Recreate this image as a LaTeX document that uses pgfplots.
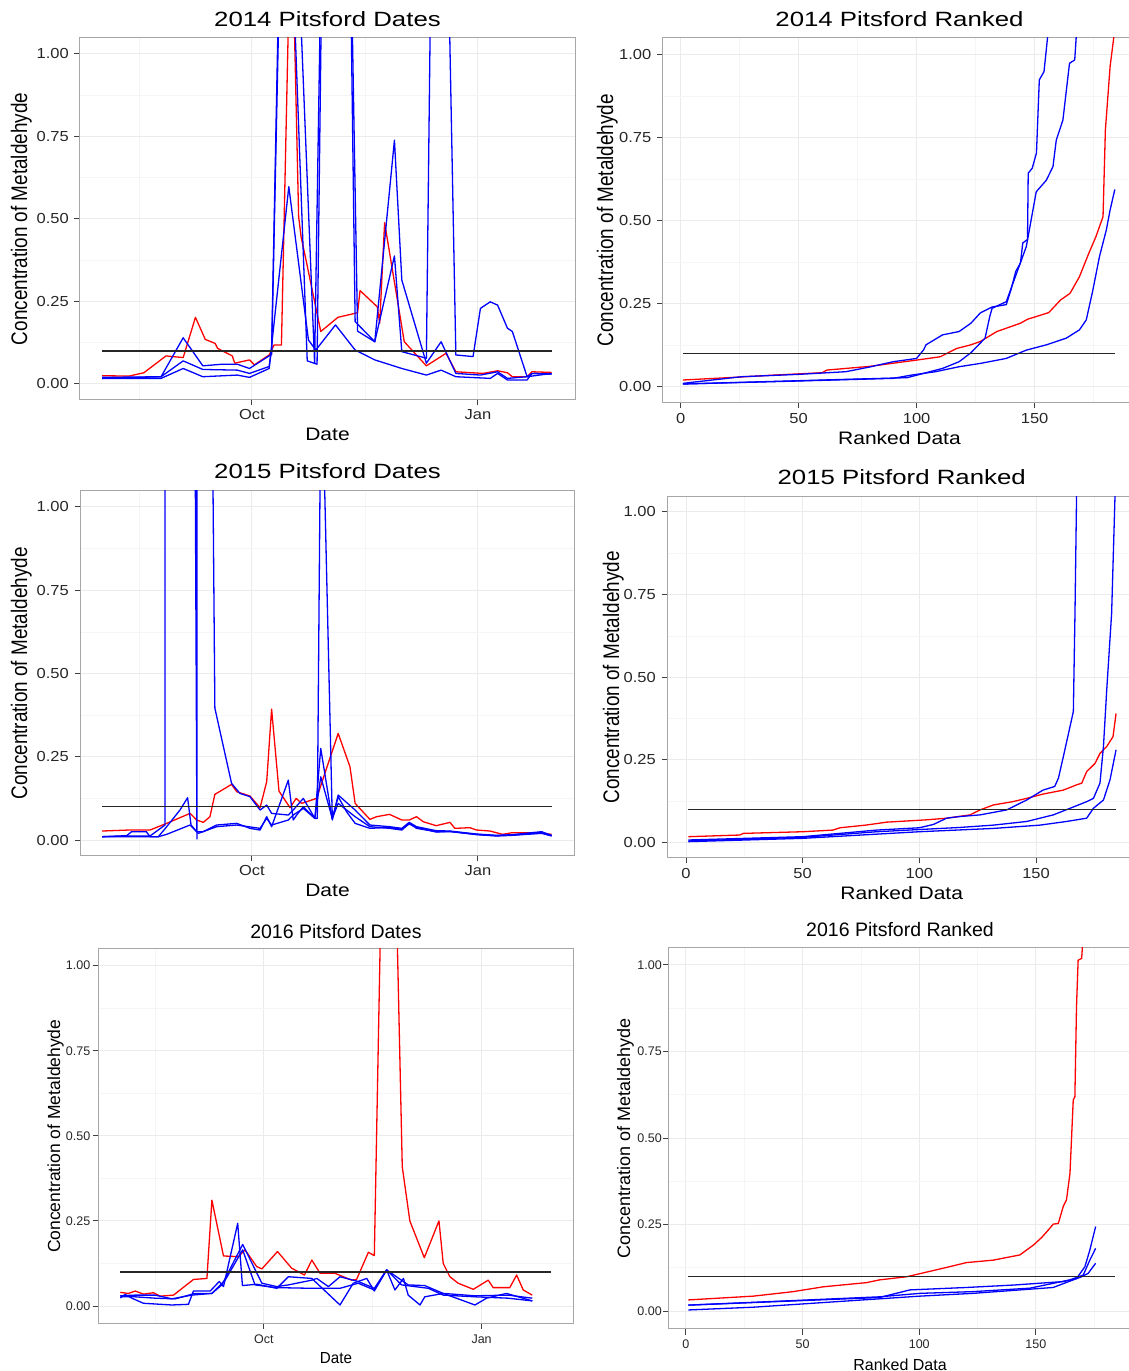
\documentclass[border=0pt]{standalone}
\usepackage{pgfplots}
\pgfplotsset{compat=1.18}
\usepackage{fontspec}
\setmainfont{Liberation Sans}
\usepackage{graphicx}
\newcommand\fs[1]{\fontsize{#1}{#1}\selectfont}
\newcommand\TV[1]{\scalebox{1}[0.88]{#1}}
\definecolor{ggred}{HTML}{FF0000}
\definecolor{ggblue}{HTML}{0000FF}
\pgfplotsset{
  gg/.style={
    scale only axis, clip=true,
    axis line style={black!35, line width=1pt},
    tick style={black!75, line width=1pt},
    major tick length=5.5pt, minor tick length=0pt,
    tick align=outside, xtick pos=left, ytick pos=left,
    grid=both,
    major grid style={black!8, line width=1pt},
    minor grid style={black!4, line width=0.6pt},
    ytick={0,0.25,0.5,0.75,1},
    minor ytick={0.125,0.375,0.625,0.875},
    tick label style={black!85},
    every axis plot/.append style={line join=round, mark=none},
  },
  toprow/.style={
    yticklabels={\TV{0.00},\TV{0.25},\TV{0.50},\TV{0.75},\TV{1.00}},
    yticklabel style={font=\fs{16.5}, anchor=east, inner sep=0pt, xshift=-5.5pt},
    xticklabel style={font=\fs{16.5}, anchor=base, inner sep=0pt, yshift=-14.5pt},
  },
  botrow/.style={
    yticklabels={0.00,0.25,0.50,0.75,1.00},
    yticklabel style={font=\fs{12.5}, anchor=east, inner sep=0pt, xshift=-2pt},
    xticklabel style={font=\fs{12.5}, anchor=base, inner sep=0pt, yshift=-14pt},
  },
  datex/.style={xtick={0,92}, minor xtick={-46,46}},
  rankx/.style={xtick={0,50,100,150}, minor xtick={25,75,125,175}},
  rl/.style={color=ggred, line width=1.3pt},
  bl/.style={color=ggblue, line width=1.3pt},
  hl/.style={color=black!85, line width=1.3pt},
}
\begin{document}
\begin{tikzpicture}
% ================= Panel 1: 2014 Dates =================
\begin{axis}[gg, toprow, datex, xticklabels={\TV{Oct},\TV{Jan}},
  at={(80pt,971pt)}, anchor=south west, width=495pt, height=362pt,
  xmin=-70, xmax=131.5, ymin=-0.0485, ymax=1.0485]
\addplot[rl] coordinates {(-61,0.025) (-50,0.024) (-44,0.034) (-35,0.085) (-28,0.080) (-23,0.202) (-19,0.135) (-15,0.123) (-14,0.108) (-8,0.085) (-7,0.063) (-1,0.073) (1,0.058) (7,0.088) (9,0.118) (12,0.118) (16,1.5) (19,0.507) (20,0.446) (22,0.376) (28,0.159) (35,0.202) (43,0.216) (44,0.283) (51,0.234) (52,0.184) (54,0.489) (62,0.128) (71,0.055) (79,0.093) (83,0.037) (94,0.032) (100,0.040) (104,0.034) (106,0.022) (112,0.022) (114,0.037) (122,0.035)};
\addplot[bl] coordinates {(-61,0.017) (-37,0.017) (-28,0.047) (-20,0.022) (-6,0.027) (-1,0.020) (7,0.047) (15,0.598) (23,0.133) (26,0.103) (34,0.179) (42,0.103) (50,0.073) (61,0.047) (71,0.027) (77,0.042) (83,0.022) (97,0.017) (100,0.032) (104,0.012) (112,0.012) (114,0.032) (122,0.030)};
\addplot[bl] coordinates {(-61,0.020) (-37,0.022) (-28,0.070) (-20,0.044) (-6,0.042) (-1,0.032) (7,0.053) (8,0.103) (13,2.0) (22.5,0.070) (26.5,0.060) (34,4.7) (42,0.189) (50,0.128) (58,0.739) (61,0.315) (71,0.063) (77,0.128) (83,0.032) (93,0.027) (100,0.037) (104,0.017) (112,0.022) (122,0.032)};
\addplot[bl] coordinates {(-61,0.017) (-37,0.022) (-28,0.140) (-20,0.055) (-12,0.060) (-6,0.060) (-1,0.047) (8,0.090) (14,2.2) (25.5,0.063) (34,4.0) (43,0.160) (50,0.128) (58,0.388) (61,0.098) (71,0.078) (75.5,3.0) (83,0.088) (90,0.083) (93,0.229) (97,0.249) (100,0.239) (104,0.169) (106,0.159) (112,0.022) (114,0.032) (122,0.030)};
\addplot[hl] coordinates {(-61,0.1) (122,0.1)};
\end{axis}
% ================= Panel 2: 2014 Ranked =================
\begin{axis}[gg, toprow, rankx, xticklabels={\TV{0},\TV{50},\TV{100},\TV{150}},
  xticklabel style={yshift=-0.8pt},
  at={(662.5pt,968.5pt)}, anchor=south west, width=474.5pt, height=364.5pt,
  xmin=-7.67, xmax=193.4, ymin=-0.0467, ymax=1.0512]
\addplot[rl] coordinates {(1,0.021) (20,0.028) (40,0.036) (60,0.043) (62,0.051) (80,0.062) (100,0.081) (110,0.091) (117,0.116) (123,0.127) (127,0.137) (134,0.167) (144,0.192) (147,0.204) (156,0.224) (161,0.262) (165,0.282) (169,0.332) (173,0.403) (176,0.453) (179,0.513) (180,0.774) (182,0.965) (183.5,1.05) (184,1.3)};
\addplot[bl] coordinates {(1,0.011) (26,0.031) (50,0.038) (70,0.046) (80,0.060) (90,0.076) (100,0.086) (103,0.112) (104,0.127) (111,0.157) (118,0.167) (123,0.192) (127,0.223) (132,0.241) (138,0.248) (140,0.293) (142,0.348) (144,0.373) (145,0.434) (147,0.444) (147.3,0.644) (149,0.659) (150.8,0.705) (152,0.925) (154,0.950) (155.6,1.06) (160,1.6) (184,5)};
\addplot[bl] coordinates {(1,0.009) (70,0.023) (96,0.028) (111,0.056) (118,0.076) (123,0.103) (129,0.147) (131,0.212) (132,0.237) (138,0.257) (146.5,0.423) (150.7,0.588) (155,0.623) (157.8,0.664) (159.2,0.744) (162,0.804) (164.8,0.975) (167,0.985) (167.7,1.06) (175,1.5) (184,3)};
\addplot[bl] coordinates {(1,0.009) (50,0.018) (90,0.026) (98,0.036) (108,0.046) (118,0.061) (127,0.071) (138,0.086) (146.5,0.111) (155,0.127) (163.4,0.147) (169,0.172) (171.9,0.202) (174.7,0.292) (177.5,0.393) (180.4,0.473) (182,0.533) (184,0.595)};
\addplot[hl] coordinates {(1,0.1) (184,0.1)};
\end{axis}
% ================= Panel 3: 2015 Dates =================
\begin{axis}[gg, toprow, datex, xticklabels={\TV{Oct},\TV{Jan}},
  at={(80pt,515pt)}, anchor=south west, width=494.5pt, height=365pt,
  xmin=-70, xmax=131.3, ymin=-0.048, ymax=1.048]
\addplot[rl] coordinates {(-61,0.027) (-50,0.030) (-41.5,0.030) (-34.7,0.050) (-25.2,0.080) (-22.5,0.060) (-19.8,0.053) (-17.1,0.070) (-15.1,0.137) (-8.3,0.167) (-6.2,0.145) (-0.8,0.132) (3.3,0.097) (6,0.175) (8,0.393) (11,0.147) (15.5,0.097) (18,0.125) (20.2,0.110) (26.3,0.125) (35.1,0.320) (39.9,0.220) (42,0.110) (48,0.062) (50.7,0.070) (56,0.077) (61,0.060) (64,0.060) (67,0.070) (69.7,0.055) (75,0.043) (80.6,0.053) (82.6,0.035) (88.7,0.037) (91.4,0.030) (96.9,0.027) (102,0.017) (106,0.022) (116,0.022) (122,0.017)};
\addplot[bl] coordinates {(-61,0.010) (-50,0.012) (-41.5,0.012) (-35.4,0.045) (-34.6,20) (-22.4,0.003) (-21.8,15) (-17.5,2.5) (-15.1,0.396) (-8.3,0.170) (-4.9,0.140) (-0.8,0.130) (3.3,0.090) (6,0.105) (8,0.080) (14.8,0.075) (16.8,0.090) (20.9,0.125) (25.6,0.065) (26.6,0.065) (28.2,1.5) (32.7,0.065) (35.1,0.110) (42,0.070) (48,0.040) (56,0.035) (61,0.030) (64,0.050) (67,0.035) (75,0.025) (80.6,0.025) (91.4,0.017) (99.6,0.013) (106,0.015) (117.9,0.022) (122,0.013)};
\addplot[bl] coordinates {(-61,0.010) (-50,0.010) (-38.1,0.010) (-34.7,0.040) (-29.3,0.090) (-26.2,0.127) (-24.8,0.045) (-22.5,0.025) (-19.8,0.025) (-14.4,0.045) (-6.2,0.050) (-0.8,0.035) (3.3,0.030) (6,0.070) (8,0.040) (14.8,0.180) (16.8,0.060) (18.2,0.075) (20.9,0.100) (25.6,0.065) (28,0.275) (32.7,0.060) (35.1,0.135) (42,0.090) (48,0.045) (56,0.040) (61,0.035) (64,0.053) (67,0.040) (75,0.028) (80.6,0.027) (91.4,0.018) (99.6,0.014) (106,0.016) (117.9,0.025) (122,0.014)};
\addplot[bl] coordinates {(-61,0.010) (-51,0.013) (-49,0.025) (-43,0.025) (-41.5,0.010) (-38,0.010) (-34.7,0.017) (-25.2,0.045) (-21.8,0.020) (-14.4,0.040) (-6.2,0.045) (3.3,0.035) (6,0.065) (8,0.045) (14.8,0.060) (16.8,0.075) (20.9,0.095) (25.6,0.065) (28,0.190) (32.7,0.065) (35.1,0.130) (38.5,0.085) (42,0.050) (48,0.035) (56,0.038) (61,0.032) (64,0.048) (67,0.038) (75,0.024) (80.6,0.026) (91.4,0.016) (99.6,0.012) (106,0.014) (117.9,0.020) (122,0.012)};
\addplot[hl] coordinates {(-61,0.1) (122,0.1)};
\end{axis}
% ================= Panel 4: 2015 Ranked =================
\begin{axis}[gg, toprow, rankx, xticklabels={\TV{0},\TV{50},\TV{100},\TV{150}},
  xticklabel style={yshift=-0.8pt},
  at={(667pt,513pt)}, anchor=south west, width=469.7pt, height=361pt,
  xmin=-8.14, xmax=193.15, ymin=-0.0475, ymax=1.0454]
\addplot[rl] coordinates {(1,0.017) (23,0.022) (24.6,0.027) (50,0.032) (63,0.037) (66,0.044) (77,0.052) (86,0.061) (103,0.068) (111.7,0.073) (121.7,0.083) (126,0.098) (131.7,0.113) (140,0.123) (146,0.133) (153,0.146) (161.7,0.158) (167.4,0.174) (169.6,0.179) (171.7,0.214) (175.3,0.239) (177.4,0.269) (180.3,0.290) (183,0.320) (184.3,0.390)};
\addplot[bl] coordinates {(1,0.007) (50,0.017) (81.7,0.037) (100,0.044) (106,0.054) (111.7,0.073) (117.4,0.078) (126,0.083) (137.4,0.098) (146,0.128) (153,0.158) (158,0.169) (159.6,0.194) (161.7,0.259) (166,0.396) (166.7,0.693) (167.4,1.06) (175,3) (184,5)};
\addplot[bl] coordinates {(1,0.004) (50,0.015) (81.7,0.032) (117.4,0.045) (131.7,0.052) (146,0.063) (157.4,0.083) (164.6,0.103) (171.7,0.123) (174.6,0.133) (177.4,0.179) (178.9,0.290) (180.3,0.461) (182.4,0.693) (183.9,1.06) (184.3,1.3)};
\addplot[bl] coordinates {(1,0.002) (50,0.012) (100,0.032) (131.7,0.042) (151.7,0.052) (163,0.063) (171.7,0.073) (174.6,0.103) (178.9,0.128) (181.7,0.189) (184.3,0.280)};
\addplot[hl] coordinates {(1,0.1) (184.3,0.1)};
\end{axis}
% ================= Panel 5: 2016 Dates =================
\begin{axis}[gg, botrow, datex, xticklabels={Oct,Jan},
  at={(98pt,47.5pt)}, anchor=south west, width=475.7pt, height=374.5pt,
  xmin=-70, xmax=130.9, ymin=-0.0514, ymax=1.049,
  every axis plot/.append style={line width=1.1pt}]
\addplot[rl] coordinates {(-60.6,0.040) (-57.1,0.037) (-54.3,0.044) (-50.8,0.035) (-46.6,0.039) (-43.7,0.029) (-38.1,0.032) (-29.7,0.078) (-24,0.081) (-21.9,0.311) (-17,0.147) (-10.7,0.145) (-7.9,0.165) (-3,0.116) (-0.8,0.109) (5.8,0.160) (11.8,0.111) (17.2,0.091) (20.3,0.135) (23.8,0.096) (30.1,0.096) (37.1,0.076) (39.2,0.078) (44.2,0.158) (46.7,0.148) (52.5,2.3) (58.5,0.409) (61.7,0.250) (67.8,0.142) (74,0.250) (75.8,0.125) (78.6,0.086) (82.1,0.067) (88.5,0.049) (94.8,0.076) (96.9,0.054) (103.9,0.054) (106.8,0.091) (109.6,0.047) (113.4,0.032)};
\addplot[bl] coordinates {(-60.6,0.024) (-58.5,0.034) (-55.7,0.023) (-50.8,0.008) (-38.8,0.003) (-31.8,0.005) (-29.7,0.044) (-22.6,0.044) (-18.8,0.072) (-17,0.057) (-11,0.243) (-9,0.060) (-3,0.064) (5.5,0.052) (10.4,0.086) (20.3,0.081) (32.2,0.003) (37.8,0.067) (43.5,0.081) (46.7,0.044) (51.9,0.106) (55.4,0.047) (59,0.081) (61,0.032) (66,0.003) (68,0.027) (75.8,0.037) (89.2,0.003) (94.1,0.023) (102.5,0.037) (113.4,0.015)};
\addplot[bl] coordinates {(-60.6,0.030) (-54.3,0.032) (-45.9,0.032) (-38.8,0.021) (-30.4,0.032) (-21.9,0.037) (-17.7,0.062) (-8.9,0.181) (-0.8,0.067) (5.5,0.057) (10.4,0.062) (20.3,0.076) (22.4,0.081) (27.3,0.057) (32.2,0.086) (39.9,0.072) (46.7,0.052) (51.9,0.106) (58.2,0.062) (69.5,0.052) (75.8,0.032) (89.2,0.027) (103.2,0.023) (113.4,0.015)};
\addplot[bl] coordinates {(-60.6,0.027) (-54.3,0.027) (-45.9,0.023) (-37.4,0.021) (-29,0.037) (-21.9,0.037) (-16.3,0.076) (-8.9,0.165) (-3.7,0.062) (5.5,0.054) (20.3,0.052) (32.2,0.052) (39.9,0.067) (46.7,0.047) (51.9,0.106) (61,0.062) (68,0.060) (75.8,0.037) (89.2,0.030) (103.2,0.032) (113.4,0.023)};
\addplot[hl] coordinates {(-60.6,0.1) (121.5,0.1)};
\end{axis}
% ================= Panel 6: 2016 Ranked =================
\begin{axis}[gg, botrow, rankx, xticklabels={0,50,100,150},
  yticklabel style={xshift=0.8pt},
  at={(668.7pt,42pt)}, anchor=south west, width=468pt, height=381.3pt,
  xmin=-7.4, xmax=193.2, ymin=-0.052, ymax=1.05,
  every axis plot/.append style={line width=1.1pt}]
\addplot[rl] coordinates {(1,0.032) (28.9,0.043) (46,0.056) (58.9,0.070) (77.4,0.082) (83,0.090) (94.6,0.099) (105.4,0.116) (111.7,0.126) (120.3,0.140) (131.7,0.147) (143.1,0.162) (149,0.191) (152.4,0.212) (155.3,0.234) (157.4,0.251) (159.6,0.253) (161.7,0.302) (163.1,0.321) (164.6,0.398) (166,0.610) (166.7,0.619) (167.4,0.880) (168.1,1.014) (169.6,1.019) (170,1.06) (172,1.5) (176,3)};
\addplot[bl] coordinates {(1,0.017) (27.4,0.024) (83,0.039) (96,0.061) (120.3,0.068) (140.3,0.075) (161.7,0.085) (167.4,0.094) (171,0.128) (173.1,0.176) (175.6,0.244)};
\addplot[bl] coordinates {(1,0.017) (83,0.041) (100.3,0.051) (123,0.056) (147.4,0.066) (164.6,0.090) (170.3,0.104) (173.1,0.147) (175.6,0.181)};
\addplot[bl] coordinates {(1,0.003) (28.9,0.011) (100.3,0.043) (123,0.051) (157.4,0.068) (166,0.090) (169.6,0.099) (172.4,0.109) (175.6,0.138)};
\addplot[hl] coordinates {(1,0.1) (184,0.1)};
\end{axis}
% ================= Titles and labels =================
\node[anchor=base] at (327.5pt,1344.3pt) {\fs{25.8}\scalebox{1}[0.8]{2014 Pitsford Dates}};
\node[anchor=base] at (899.5pt,1344.3pt) {\fs{25.8}\scalebox{1}[0.8]{2014 Pitsford Ranked}};
\node[anchor=base] at (327.5pt,892.7pt) {\fs{25.8}\scalebox{1}[0.8]{2015 Pitsford Dates}};
\node[anchor=base] at (901.7pt,886pt) {\fs{25.8}\scalebox{1}[0.8]{2015 Pitsford Ranked}};
\node[anchor=base] at (335.9pt,432.7pt) {\fs{19.5}2016 Pitsford Dates};
\node[anchor=base] at (900pt,434.3pt) {\fs{19.5}2016 Pitsford Ranked};
\node[anchor=base] at (327.5pt,930.3pt) {\fs{21}\scalebox{1}[0.86]{Date}};
\node[anchor=base] at (899.5pt,926.7pt) {\fs{21}\scalebox{1}[0.86]{Ranked Data}};
\node[anchor=base] at (327.5pt,474.3pt) {\fs{21}\scalebox{1}[0.86]{Date}};
\node[anchor=base] at (901.7pt,471.2pt) {\fs{21}\scalebox{1}[0.86]{Ranked Data}};
\node[anchor=base] at (336pt,7.2pt) {\fs{16}\scalebox{0.95}[1]{Date}};
\node[anchor=base] at (900pt,0.8pt) {\fs{16}Ranked Data};
\node[rotate=90, anchor=base] at (27pt,1152pt) {\fs{22.5}\scalebox{0.84}[1]{Concentration of Metaldehyde}};
\node[rotate=90, anchor=base] at (613pt,1150.75pt) {\fs{22.5}\scalebox{0.84}[1]{Concentration of Metaldehyde}};
\node[rotate=90, anchor=base] at (27pt,697.5pt) {\fs{22.5}\scalebox{0.84}[1]{Concentration of Metaldehyde}};
\node[rotate=90, anchor=base] at (619pt,693.5pt) {\fs{22.5}\scalebox{0.84}[1]{Concentration of Metaldehyde}};
\node[rotate=90, anchor=base] at (60pt,234.75pt) {\fs{17.5}Concentration of Metaldehyde};
\node[rotate=90, anchor=base] at (630pt,232.65pt) {\fs{18}Concentration of Metaldehyde};
\pgfresetboundingbox
\path[use as bounding box] (0pt,0pt) rectangle (1128pt,1371pt);
\end{tikzpicture}
\end{document}
